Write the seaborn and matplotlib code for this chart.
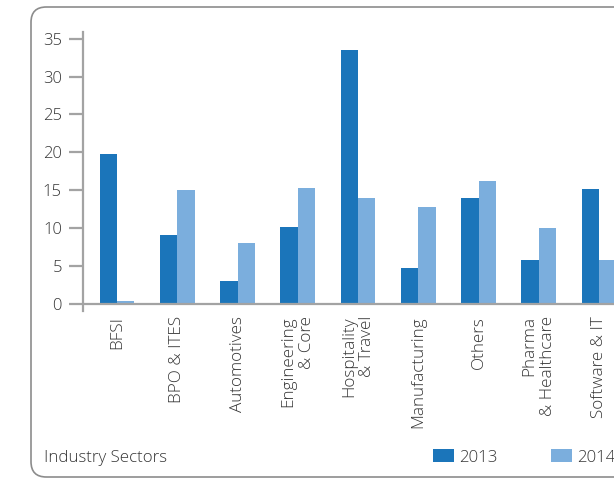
import matplotlib
matplotlib.use("Agg")
import matplotlib.pyplot as plt
from matplotlib.patches import FancyBboxPatch, Rectangle
import seaborn as sns
import pandas as pd

# Share of placements by industry sector, 2013 vs 2014 (%)
sectors = ["BFSI", "BPO & ITES", "Automotives", "Engineering\n& Core",
           "Hospitality\n& Travel", "Manufacturing", "Others",
           "Pharma\n& Healthcare", "Software & IT"]
values_2013 = [19.8, 9.1, 3.0, 10.1, 33.5, 4.7, 14.0, 5.8, 15.1]
values_2014 = [0.3, 15.0, 8.0, 15.3, 14.0, 12.8, 16.2, 10.0, 5.8]
years = ["2013", "2014"]
yticks = [0, 5, 10, 15, 20, 25, 30, 35]

colors = {"2013": "#1b75ba", "2014": "#7baedd"}
grey = "#a3a3a3"
text_color = "#363636"

df = pd.DataFrame({
    "Sector": sectors * 2,
    "Year": [years[0]] * len(sectors) + [years[1]] * len(sectors),
    "Value": values_2013 + values_2014,
})

sns.set_theme(style="white")
plt.rcParams["font.family"] = ["Open Sans", "DejaVu Sans"]

W, H = 614, 478
fig = plt.figure(figsize=(W / 100, H / 100), dpi=100)

# axes geometry in pixels
ax_left, ax_top, ax_bottom = 82.7, 32.0, 310.5
x0_px, step_px = 117.0, 60.25
x_right = 8.5
ax_right = x0_px + x_right * step_px
ax = fig.add_axes([ax_left / W, (H - ax_bottom) / H,
                   (ax_right - ax_left) / W, (ax_bottom - ax_top) / H])

sns.barplot(data=df, x="Sector", y="Value", hue="Year", order=sectors,
            hue_order=years, palette=colors, width=0.58, saturation=1,
            legend=False, ax=ax, edgecolor="none", linewidth=0)

ax.set_xlim(-(x0_px - ax_left) / step_px, x_right)
ax.set_ylim(-0.9, 35.88)
ax.set_yticks(yticks)
ax.set_yticklabels([str(t) for t in yticks])
ax.set_xlabel("")
ax.set_ylabel("")

for side in ["top", "right", "bottom"]:
    ax.spines[side].set_visible(False)
ax.spines["left"].set_color(grey)
ax.spines["left"].set_linewidth(1.6)
ax.axhline(0, color=grey, lw=1.6, zorder=3)

ax.tick_params(axis="y", direction="out", length=10, width=1.6, color=grey,
               pad=5, labelsize=12, labelcolor=text_color, left=True)
ax.tick_params(axis="x", length=0, pad=4, labelsize=12.3, labelcolor=text_color)
for lab in ax.get_xticklabels():
    lab.set_rotation(90)
    lab.set_ha("center")
    lab.set_va("top")
    lab.set_multialignment("right")
for lab in ax.get_xticklabels() + ax.get_yticklabels():
    lab.set_fontweight("light")

# rounded frame around the panel
frame = FancyBboxPatch((31 / W, 1 / H), 700 / W, (H - 8) / H,
                       boxstyle="round,pad=0,rounding_size=0.025",
                       transform=fig.transFigure, fill=False,
                       edgecolor="#8c8c8c", lw=1.2, mutation_aspect=W / H)
fig.add_artist(frame)

# footer: axis title and legend
fig.text(44 / W, (H - 462) / H, "Industry Sectors", fontsize=12.2,
         color=text_color, fontweight="light", va="baseline", ha="left")
for year, px in zip(years, [433, 551]):
    fig.add_artist(Rectangle((px / W, (H - 462) / H), 21 / W, 13 / H,
                             transform=fig.transFigure,
                             facecolor=colors[year], edgecolor="none"))
    fig.text((px + 26) / W, (H - 462) / H, year, fontsize=12.2,
             color=text_color, fontweight="light", va="baseline", ha="left")

fig.savefig("out.png", dpi=100)
